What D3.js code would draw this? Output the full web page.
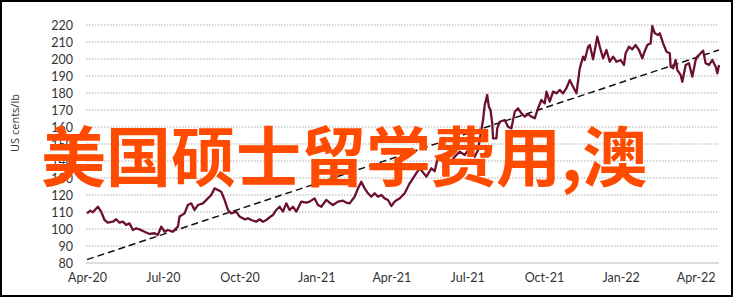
<!DOCTYPE html>
<html>
<head>
  <meta charset="utf-8">
  <script src="https://d3js.org/d3.v7.min.js"></script>
  <style>
    body { margin: 0; background: #fff; }
    svg { display: block; }
  </style>
</head>
<body>
  <svg id="chart"></svg>
  <script>
    // price series (US cents/lb)
    var priceDates = [
      "2020-04-01","2020-04-05","2020-04-08","2020-04-14","2020-04-18","2020-04-22","2020-04-26","2020-05-02",
      "2020-05-06","2020-05-10","2020-05-14","2020-05-18","2020-05-22","2020-05-26","2020-05-30","2020-06-03",
      "2020-06-09","2020-06-15","2020-06-21","2020-06-25","2020-06-29","2020-07-03","2020-07-07","2020-07-13",
      "2020-07-19","2020-07-21","2020-07-27","2020-07-31","2020-08-04","2020-08-08","2020-08-12","2020-08-18",
      "2020-08-24","2020-08-28","2020-09-01","2020-09-05","2020-09-09","2020-09-13","2020-09-17","2020-09-21",
      "2020-09-27","2020-10-01","2020-10-07","2020-10-11","2020-10-15","2020-10-21","2020-10-25","2020-10-29",
      "2020-11-02","2020-11-06","2020-11-10","2020-11-14","2020-11-18","2020-11-22","2020-11-26","2020-11-30",
      "2020-12-04","2020-12-08","2020-12-14","2020-12-20","2020-12-24","2020-12-30","2021-01-03","2021-01-07",
      "2021-01-13","2021-01-17","2021-01-21","2021-01-27","2021-02-02","2021-02-06","2021-02-10","2021-02-16",
      "2021-02-20","2021-02-24","2021-02-28","2021-03-04","2021-03-08","2021-03-12","2021-03-16","2021-03-20",
      "2021-03-24","2021-03-28","2021-04-01","2021-04-05","2021-04-09","2021-04-11","2021-04-17","2021-04-23",
      "2021-04-27","2021-05-01","2021-05-05","2021-05-13","2021-05-19","2021-05-23","2021-05-27","2021-06-02",
      "2021-06-06","2021-06-11","2021-06-16","2021-06-22","2021-06-28","2021-07-04","2021-07-10","2021-07-14",
      "2021-07-18","2021-07-20","2021-07-22","2021-07-25","2021-07-27","2021-07-29","2021-07-31","2021-08-01",
      "2021-08-05","2021-08-06","2021-08-09","2021-08-15","2021-08-19","2021-08-23","2021-08-27","2021-08-31",
      "2021-09-04","2021-09-08","2021-09-12","2021-09-16","2021-09-20","2021-09-24","2021-09-28","2021-10-02",
      "2021-10-04","2021-10-08","2021-10-12","2021-10-16","2021-10-20","2021-10-24","2021-10-28","2021-11-01",
      "2021-11-05","2021-11-09","2021-11-13","2021-11-17","2021-11-19","2021-11-23","2021-11-25","2021-11-29",
      "2021-12-04","2021-12-07","2021-12-11","2021-12-15","2021-12-19","2021-12-23","2021-12-27","2022-01-01",
      "2022-01-05","2022-01-07","2022-01-11","2022-01-15","2022-01-19","2022-01-23","2022-01-27","2022-01-29",
      "2022-02-02","2022-02-06","2022-02-08","2022-02-11","2022-02-15","2022-02-17","2022-02-21","2022-02-25",
      "2022-03-01","2022-03-02","2022-03-05","2022-03-08","2022-03-10","2022-03-14","2022-03-16","2022-03-20",
      "2022-03-24","2022-03-26","2022-03-28","2022-04-01","2022-04-03","2022-04-07","2022-04-10","2022-04-13",
      "2022-04-17","2022-04-21","2022-04-25","2022-04-27","2022-04-29"
    ];
    var priceValues = [
      109.2,110.8,109.8,113.1,110.2,105.3,103.7,104.3,
      105.7,103.7,104.3,102.4,103.3,99.4,100.4,99.8,
      98.4,97.1,97.5,96.5,101.4,98.4,99.4,98.4,
      101.4,107.3,109.2,114.1,115.1,111.2,114.1,115.1,
      118,120,123.9,122.9,121.9,117.1,111.2,109.2,
      110.2,107.3,105.7,106.3,105.3,104.3,105.7,104.3,
      105.3,106.9,108.2,111.2,113.1,110.2,115.1,111.2,
      113.1,110.2,116.1,115.5,116.1,118,114.1,113.1,
      117.1,115.5,114.1,116.1,116.7,115.5,115.1,119,
      123.9,127.8,123.9,121,119,121,119,120,
      118,117.1,113.5,116.1,117.5,118,121,126.9,
      129.8,132.8,135.7,130.8,135.7,134,142.5,139.6,
      141,139,142.5,145.5,143.5,147.5,142.5,146.5,
      158.2,164.1,172.9,178.8,171.9,170,162.2,153.3,
      153.3,159.2,163.1,164.1,160.2,159.2,169,171,
      168,166.1,167.6,166.1,165.1,171,175.9,173.9,
      180.8,174.9,180.8,179.8,181.8,179.8,182.8,187.6,
      183.7,179.8,194.5,201.4,199.4,207.2,208.2,199.8,
      213.1,207.2,200.4,205.3,198.4,201.4,198.4,199.4,
      196.5,203.4,207.2,205.7,208.2,205.3,200.4,203.4,
      208.2,209.2,219.4,215.1,214.1,215.1,209.2,204.3,
      203.4,195.5,194.5,199.4,193.5,190.6,186.6,196.5,
      197.5,193.5,189.6,199.4,201.4,203.4,204.9,197.5,
      196.5,199.4,195.5,191.6,196.5
    ];
    // dashed trend line end points
    var trendDates = ["2020-04-01", "2022-04-29"];
    var trendValues = [82, 205.3];

    var yTicks = [80, 90, 100, 110, 120, 130, 140, 150, 160, 170, 180, 190, 200, 210, 220];
    var xTickDates = ["2020-04-01","2020-07-01","2020-10-01","2021-01-01","2021-04-01","2021-07-01","2021-10-01","2022-01-01","2022-04-01"];
    var xTickLabels = ["Apr-20","Jul-20","Oct-20","Jan-21","Apr-21","Jul-21","Oct-21","Jan-22","Apr-22"];
    var yTitle = "US cents/lb";
    var overlayText = "美国硕士留学费用,澳";

    var width = 737, height = 298;
    var parse = d3.utcParse("%Y-%m-%d");

    var svg = d3.select("#chart").attr("width", width).attr("height", height);

    var x = d3.scaleUtc()
              .domain([parse("2020-04-01"), parse("2022-04-29")])
              .range([87, 719]);
    var y = d3.scaleLinear()
              .domain([80, 220])
              .range([263, 25]);

    // frame
    svg.append("rect")
       .attr("x", 1).attr("y", 1)
       .attr("width", 731).attr("height", 295)
       .attr("fill", "#fff")
       .attr("stroke", "#000")
       .attr("stroke-width", 2);

    // gridlines
    svg.append("g").selectAll("line")
       .data(yTicks.slice(1))
       .join("line")
       .attr("x1", 86).attr("x2", 719)
       .attr("y1", function(d) { return y(d); })
       .attr("y2", function(d) { return y(d); })
       .attr("stroke", "#c8c8c8")
       .attr("stroke-width", 1.5)
       .attr("stroke-dasharray", "1.5,1.5");

    // baseline
    svg.append("line")
       .attr("x1", 86).attr("x2", 719)
       .attr("y1", y(80)).attr("y2", y(80))
       .attr("stroke", "#d0d0d0")
       .attr("stroke-width", 1.5);

    var yAxis = d3.axisLeft(y).tickValues(yTicks).tickSize(0).tickPadding(0);
    svg.append("g")
       .attr("transform", "translate(73,0)")
       .call(yAxis)
       .call(function(g) { g.select(".domain").remove(); })
       .selectAll("text")
       .attr("font-family", "Lato, sans-serif")
       .attr("font-size", 12.5)
       .attr("fill", "#333");

    var xAxis = d3.axisBottom(x)
                  .tickValues(xTickDates.map(parse))
                  .tickFormat(function(d, i) { return xTickLabels[i]; })
                  .tickSize(0).tickPadding(0);
    svg.append("g")
       .attr("transform", "translate(0,273)")
       .call(xAxis)
       .call(function(g) { g.select(".domain").remove(); })
       .selectAll("text")
       .attr("font-family", "Lato, sans-serif")
       .attr("font-size", 12.5)
       .attr("fill", "#333");

    svg.append("text")
       .attr("transform", "translate(19,123) rotate(-90)")
       .attr("text-anchor", "middle")
       .attr("font-family", "'Open Sans', sans-serif")
       .attr("font-size", 11)
       .attr("fill", "#333")
       .text(yTitle);

    var line = d3.line()
                 .x(function(d) { return x(d[0]); })
                 .y(function(d) { return y(d[1]); });

    svg.append("path")
       .datum(trendDates.map(function(d, i) { return [parse(d), trendValues[i]]; }))
       .attr("d", line)
       .attr("fill", "none")
       .attr("stroke", "#111")
       .attr("stroke-width", 1.5)
       .attr("stroke-dasharray", "7,4");

    svg.append("path")
       .datum(priceDates.map(function(d, i) { return [parse(d), priceValues[i]]; }))
       .attr("d", line)
       .attr("fill", "none")
       .attr("stroke", "#6b1030")
       .attr("stroke-width", 2.3)
       .attr("stroke-linejoin", "round");

    svg.append("text")
       .attr("x", 41)
       .attr("y", 181)
       .attr("font-family", "'Noto Sans CJK SC', sans-serif")
       .attr("font-weight", "bold")
       .attr("font-size", 65)
       .attr("fill", "#ff4b00")
       .text(overlayText);
  </script>
</body>
</html>
